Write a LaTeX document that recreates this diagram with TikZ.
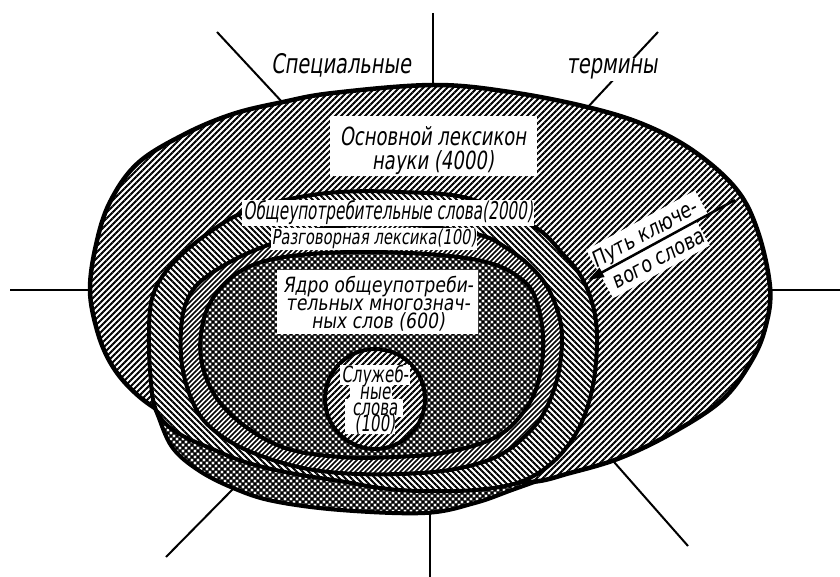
\documentclass[tikz,border=0pt]{standalone}
\usepackage{fontspec}
\newfontfamily\gA[FakeStretch=0.72,FakeSlant=0.15]{DejaVu Sans}
\newfontfamily\gN[FakeStretch=0.62,FakeSlant=0.15]{DejaVu Sans}
\newfontfamily\gM[FakeStretch=0.67,FakeSlant=0.12]{DejaVu Sans}
\newfontfamily\gW[FakeStretch=0.82,FakeSlant=0.15]{DejaVu Sans}
\newcommand\tightlines{\lineskiplimit-50pt\relax}
\usetikzlibrary{patterns.meta,arrows.meta}
\tikzset{
  bnd/.style={draw=black, line width=4pt, line join=round},
  hNE/.style={preaction={fill=white}, pattern={Lines[angle=45,distance=4.2426pt,line width=1.9pt]}},
  hNW/.style={preaction={fill=white}, pattern={Lines[angle=-45,distance=4.2426pt,line width=2pt]}},
  hC/.style={preaction={fill=white}, pattern={Lines[angle=45,distance=3.5355pt,line width=1.6pt]}},
  xh/.style={preaction={fill=white}, preaction={pattern={Lines[angle=45,distance=4.2426pt,line width=1.6pt]}}, pattern={Lines[angle=-45,distance=4.2426pt,line width=1.6pt]}},
  ray/.style={line width=2pt},
  txt/.style={inner sep=1pt, anchor=base, text=black},
  wtxt/.style={txt, fill=white},
  wbox/.style={fill=white, inner sep=0pt},
  mtxt/.style={inner sep=0pt, align=center, text=black},
}
\begin{document}
\begin{tikzpicture}[x=1pt,y=-1pt]
\useasboundingbox (0,0) rectangle (840,577);

% lower cross-hatched lobe
\path[xh, bnd] plot[smooth, tension=0.6] coordinates {(150,395) (157,413) (172,447) (198,470) (233,488) (273,501) (340,510) (425,513) (475,503) (512,490) (540,480)} -- (560,420) -- (300,400) -- (150,380) -- cycle;

% outer region: basic lexicon of science
\path[hNE, bnd, line width=4.5pt] plot[smooth cycle, tension=0.6] coordinates {(90,290) (96,245) (110,202) (138,163) (185,134) (233,114) (283,102) (333,93) (433,85) (510,92) (587,107) (645,125) (695,152) (737,190) (758,232) (770,287) (766,325) (752,360) (722,400) (672,433) (620,458) (570,473) (530,482) (470,479) (400,475) (330,467) (260,451) (200,430) (158,410) (130,388) (110,362) (97,330)};

% common words
\path[hNW, bnd] plot[smooth cycle, tension=0.6] coordinates {(400,192) (467,198) (533,226) (562,253) (582,278) (594,310) (597,345) (592,390) (578,430) (553,462) (520,482) (475,490) (420,491) (380,488) (340,481) (290,473) (245,462) (210,448) (183,436) (164,422) (154,404) (150,370) (149,335) (151,303) (160,280) (178,258) (207,234) (242,213) (290,199) (340,192)};

% colloquial vocabulary
\path[hC, bnd] plot[smooth cycle, tension=0.6] coordinates {(375,224) (425,226) (480,235) (505,247) (530,266) (549,290) (561,325) (560,365) (550,400) (533,428) (500,455) (455,469) (400,474) (340,473) (290,465) (240,447) (207,424) (191,398) (182,365) (181,330) (186,303) (200,282) (230,262) (268,245) (320,229)};

% core
\path[xh, bnd] plot[smooth cycle, tension=0.6] coordinates {(370,252) (440,255) (490,263) (520,278) (535,297) (543,335) (540,375) (527,407) (498,436) (448,452) (395,457) (340,457) (285,448) (242,424) (214,394) (201,358) (203,322) (215,295) (236,274) (265,261) (310,254)};

% function words circle
\path[hNE, bnd] (375,399) circle[radius=50];

% radiating lines
\coordinate (r1a) at (217,32);  \coordinate (r1b) at (283,103);
\coordinate (r2a) at (433,13);  \coordinate (r2b) at (433,86);
\coordinate (r3a) at (658,32);  \coordinate (r3b) at (587,108);
\coordinate (r4a) at (771,290); \coordinate (r4b) at (840,290);
\coordinate (r5a) at (10,290);  \coordinate (r5b) at (90,290);
\coordinate (r6a) at (166,557); \coordinate (r6b) at (233,489);
\coordinate (r7a) at (430,513); \coordinate (r7b) at (430,577);
\coordinate (r8a) at (614,462); \coordinate (r8b) at (688,546);
\draw[ray] (r1a) -- (r1b);
\draw[ray] (r2a) -- (r2b);
\draw[ray] (r3a) -- (r3b);
\draw[ray] (r4a) -- (r4b);
\draw[ray] (r5a) -- (r5b);
\draw[ray] (r6a) -- (r6b);
\draw[ray] (r7a) -- (r7b);
\draw[ray] (r8a) -- (r8b);

% labels
\node[txt, font=\gA\fontsize{27}{30}\selectfont] (spec) at (341,74) {Специальные};
\node[wtxt, font=\gA\fontsize{27}{30}\selectfont] (term) at (612,74) {термины};

\node[wbox, minimum width=207pt, minimum height=60pt] (obox) at (433.5,146) {};
\node[mtxt, font=\gA\fontsize{25}{24}\selectfont\tightlines] (osn) at (433,151) {Основной лексикон\\науки (4000)};

\node[wtxt, font=\gN\fontsize{24.5}{27}\selectfont] (obsh) at (388,220) {Общеупотребительные слова(2000)};
\node[wtxt, font=\gA\fontsize{20.5}{23}\selectfont] (razg) at (374,245) {Разговорная лексика(100)};

\node[wbox, minimum width=201pt, minimum height=64pt] (ybox) at (377.5,302) {};
\node[mtxt, font=\gW\fontsize{21}{18}\selectfont\tightlines] (yadro) at (378,303.5) {Ядро общеупотреби-\\тельных многознач-\\ных слов (600)};

% white backing of the text in the circle
\fill[white] (340,365) rectangle (410,385);
\fill[white] (350,385) rectangle (392,401);
\fill[white] (345,399) rectangle (403,417);
\fill[white] (345,416) rectangle (395,434);
\node[mtxt, font=\gM\fontsize{22.5}{16.3}\selectfont\tightlines] (slu) at (375,400) {Служеб-\\ные\\слова\\(100)};

% key word path
\node[wbox, rotate=28.6, minimum width=124pt, minimum height=27pt] (pb1) at (647,232) {};
\node[wbox, rotate=28.6, minimum width=110pt, minimum height=27pt] (pb2) at (655,260) {};
\node[mtxt, rotate=28.6, font=\gW\fontsize{22}{28.4}\selectfont\tightlines] (put) at (651,246) {Путь ключе-\\вого слова};

\coordinate (pa) at (735,200);
\coordinate (pz) at (588,280);
\draw[line width=2.5pt, -{Triangle[length=16pt,width=10pt]}] (pa) -- (pz);
\end{tikzpicture}
\end{document}
